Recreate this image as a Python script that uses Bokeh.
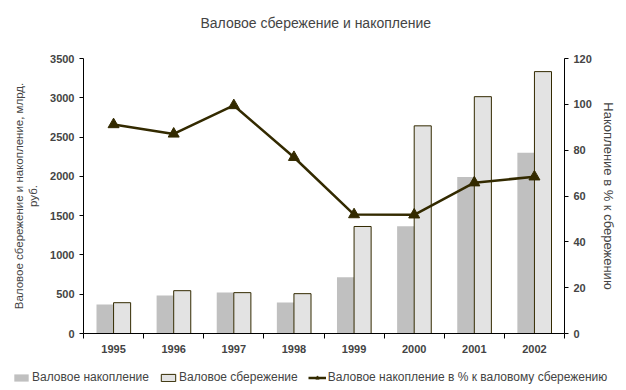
from bokeh.plotting import figure
from bokeh.models import (Range1d, LinearAxis, FixedTicker, Legend, LegendItem,
                          ColumnDataSource)
from bokeh.embed import file_html
from bokeh.resources import INLINE

years = ["1995", "1996", "1997", "1998", "1999", "2000", "2001", "2002"]
accumulation = [370, 485, 523, 396, 715, 1366, 1992, 2299]
savings = [392, 545, 520, 507, 1362, 2643, 3014, 3333]
accum_pct = [91.2, 87.1, 99.5, 76.9, 51.9, 51.8, 65.8, 68.4]
left_ticks = [0, 500, 1000, 1500, 2000, 2500, 3000, 3500]
right_ticks = [0, 20, 40, 60, 80, 100, 120]

FONT = "Liberation Sans"
DARK = "#332a00"
GRAY = "#c0c0c0"
LIGHT = "#e3e3e3"
W = 622
H_MAIN = 363

centers = [i + 0.5 for i in range(len(years))]
src = ColumnDataSource(dict(
    c=centers,
    xa=[c - 0.142 for c in centers],
    xs=[c + 0.142 for c in centers],
    acc=accumulation, sav=savings, pct=accum_pct,
))

p = figure(width=W, height=H_MAIN, output_backend="svg", toolbar_location=None,
           x_range=Range1d(0, len(years)), y_range=Range1d(0, 3500),
           min_border_left=83, min_border_right=W - 564, min_border_top=58,
           min_border_bottom=30)
p.outline_line_color = None
p.grid.visible = False

p.title.text = "Валовое сбережение и накопление\n "
p.title.text_font = FONT
p.title.text_font_size = "14px"
p.title.text_font_style = "normal"
p.title.align = "left"
p.title.offset = 117
p.title.vertical_align = "top"
p.title.standoff = 19

p.extra_y_ranges = {"pct": Range1d(0, 120)}

r_acc = p.vbar(x="xa", top="acc", width=0.284, source=src,
               fill_color=GRAY, line_color=None)
r_sav = p.vbar(x="xs", top="sav", width=0.284, source=src,
               fill_color=LIGHT, line_color=DARK, line_width=1)
r_line = p.line(x="c", y="pct", source=src, y_range_name="pct",
                line_color=DARK, line_width=2.5)
r_mark = p.scatter(x="c", y="pct", source=src, y_range_name="pct",
                   marker="triangle", size=11, fill_color=DARK, line_color=DARK)

# x axis: ticks at category boundaries (minor), labels at centers
xax = p.xaxis[0]
xax.ticker = FixedTicker(ticks=centers, minor_ticks=list(range(len(years) + 1)))
xax.major_label_overrides = {c: y for c, y in zip(centers, years)}
xax.major_tick_line_color = None
xax.minor_tick_line_color = "black"
xax.minor_tick_out = 5
xax.minor_tick_in = 0
xax.major_label_standoff = 5
xax.major_label_text_font = FONT
xax.major_label_text_font_style = "bold"
xax.major_label_text_font_size = "11px"
xax.axis_line_color = "black"

yax = p.yaxis[0]
yax.ticker = FixedTicker(ticks=left_ticks, minor_ticks=[])
yax.major_tick_out = 4
yax.major_tick_in = 0
yax.major_label_text_font = FONT
yax.major_label_text_font_style = "bold"
yax.major_label_text_font_size = "11px"
yax.major_label_standoff = 5
yax.axis_label = "Валовое сбережение и накопление, млрд.\nруб."
yax.axis_label_text_font = FONT
yax.axis_label_text_font_style = "normal"
yax.axis_label_text_font_size = "11.5px"
yax.axis_label_standoff = 8

rax = LinearAxis(y_range_name="pct", ticker=FixedTicker(ticks=right_ticks, minor_ticks=[]))
rax.major_tick_out = 4
rax.major_tick_in = 0
rax.major_label_text_font = FONT
rax.major_label_text_font_style = "bold"
rax.major_label_text_font_size = "11px"
rax.major_label_standoff = 5
rax.axis_label = "Накопление в % к сбережению"
rax.axis_label_text_font = FONT
rax.axis_label_text_font_style = "normal"
rax.axis_label_text_font_size = "13px"
rax.axis_label_standoff = 6
p.add_layout(rax, "right")

# legend strip below the chart (same styles; placeholder source draws nothing)
lg = figure(width=626, height=390 - H_MAIN, output_backend="svg", toolbar_location=None,
            x_axis_type=None, y_axis_type=None, x_range=Range1d(0, 1), y_range=Range1d(0, 1),
            min_border=0)
lg.outline_line_color = None
lg.grid.visible = False
nan = float("nan")
dummy = ColumnDataSource(dict(x=[nan], y=[nan]))
l_acc = lg.vbar(x="x", top="y", width=0.1, source=dummy, fill_color=GRAY, line_color=None)
l_sav = lg.vbar(x="x", top="y", width=0.1, source=dummy, fill_color=LIGHT, line_color=DARK)
l_line = lg.line(x="x", y="y", source=dummy, line_color=DARK, line_width=2.5)
l_mark = lg.scatter(x="x", y="y", source=dummy, marker="triangle", size=9,
                    fill_color=DARK, line_color=DARK)

legend = Legend(items=[
    LegendItem(label="Валовое накопление", renderers=[l_acc]),
    LegendItem(label="Валовое сбережение", renderers=[l_sav]),
    LegendItem(label="Валовое накопление в % к валовому сбережению",
               renderers=[l_line, l_mark]),
], orientation="horizontal", location=(12, 6))
legend.border_line_color = None
legend.background_fill_alpha = 0
legend.label_text_font = FONT
legend.label_text_font_size = "12px"
legend.glyph_width = 18
legend.glyph_height = 9
legend.label_standoff = 2
legend.spacing = 10
legend.padding = 0
legend.margin = 0
lg.add_layout(legend, "center")

open("out.html", "w").write(file_html([p, lg], INLINE))
